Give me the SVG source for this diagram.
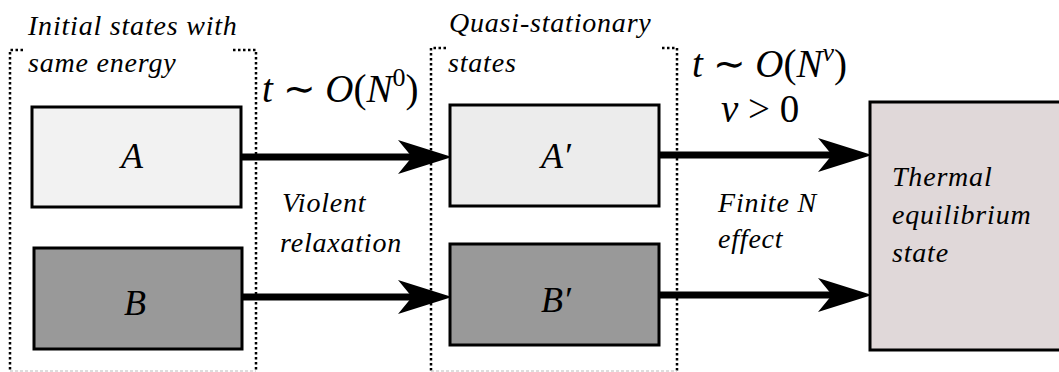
<svg xmlns="http://www.w3.org/2000/svg" width="1059" height="372" viewBox="0 0 1059 372">
<style>
.dot{fill:none;stroke:#000;stroke-width:2.5;stroke-dasharray:2.5 2.5}
.dotb{fill:none;stroke:#bbb;stroke-width:1;stroke-dasharray:3 2}
.box{stroke:#000;stroke-width:3}
.conn{stroke:#000;stroke-width:7;fill:none}
</style>
<defs>
<marker id="ah" markerUnits="userSpaceOnUse" markerWidth="54" markerHeight="34" viewBox="0 0 54 34" refX="14" refY="17" orient="auto" overflow="visible">
<path d="M0,0 L54,17 L0,34 L14,17 Z" fill="#000"/>
</marker>
</defs>
<rect width="1059" height="372" fill="#fff"/>

<g id="group-initial">
<path class="dot" d="M23,50 H10 V371"/>
<path class="dot" d="M233,50 H256 V371"/>
<path class="dotb" d="M10,371 H256"/>
<text x="28" y="35" font-family="Liberation Serif, serif" font-size="28" font-style="italic" letter-spacing="0.8">Initial states with</text>
<text x="28" y="72" font-family="Liberation Serif, serif" font-size="28" font-style="italic" letter-spacing="0.8">same energy</text>
</g>

<g id="group-quasi">
<path class="dot" d="M446,48 H431 V371"/>
<path class="dot" d="M662,48 H677 V371"/>
<path class="dotb" d="M431,371 H677"/>
<text x="449" y="32" font-family="Liberation Serif, serif" font-size="28" font-style="italic" letter-spacing="0.8">Quasi-stationary</text>
<text x="448" y="72" font-family="Liberation Serif, serif" font-size="28" font-style="italic" letter-spacing="0.8">states</text>
</g>

<g id="connectors">
<line class="conn" x1="241" y1="157" x2="412" y2="157" marker-end="url(#ah)"/>
<line class="conn" x1="242" y1="297" x2="412" y2="297" marker-end="url(#ah)"/>
<line class="conn" x1="659" y1="155" x2="832" y2="155" marker-end="url(#ah)"/>
<line class="conn" x1="659" y1="295" x2="832" y2="295" marker-end="url(#ah)"/>
</g>

<g id="node-A">
<rect class="box" x="32" y="107" width="209" height="100" fill="#f2f2f2"/>
<text x="132" y="168" text-anchor="middle" font-family="Liberation Serif, serif" font-size="36" font-style="italic">A</text>
</g>
<g id="node-B">
<rect class="box" x="34" y="248" width="208" height="101" fill="#999999"/>
<text x="135" y="315" text-anchor="middle" font-family="Liberation Serif, serif" font-size="36" font-style="italic">B</text>
</g>
<g id="node-A-prime">
<rect class="box" x="450" y="105" width="209" height="101" fill="#ececec"/>
<text x="556" y="168" text-anchor="middle" font-family="Liberation Serif, serif" font-size="36" font-style="italic">A′</text>
</g>
<g id="node-B-prime">
<rect class="box" x="450" y="244" width="209" height="101" fill="#999999"/>
<text x="556" y="312" text-anchor="middle" font-family="Liberation Serif, serif" font-size="36" font-style="italic">B′</text>
</g>
<g id="node-thermal">
<rect class="box" x="870" y="102" width="195" height="248" fill="#e0d8d9"/>
<text x="892" y="186" font-family="Liberation Serif, serif" font-size="28" font-style="italic" letter-spacing="0.8">Thermal</text>
<text x="892" y="224" font-family="Liberation Serif, serif" font-size="28" font-style="italic" letter-spacing="0.8">equilibrium</text>
<text x="892" y="262" font-family="Liberation Serif, serif" font-size="28" font-style="italic" letter-spacing="0.8">state</text>
</g>

<g id="labels">
<text x="262" y="102" font-family="Liberation Serif, serif" font-size="39" font-style="italic">t <tspan font-style="normal">∼</tspan> O<tspan font-style="normal">(</tspan>N<tspan font-style="normal" font-size="26" dy="-16">0</tspan><tspan font-style="normal" dy="16">)</tspan></text>
<text x="692" y="77" font-family="Liberation Serif, serif" font-size="39" font-style="italic">t <tspan font-style="normal">∼</tspan> O<tspan font-style="normal">(</tspan>N<tspan font-size="26" dy="-16">ν</tspan><tspan font-style="normal" dy="16">)</tspan></text>
<text x="721" y="122" font-family="Liberation Serif, serif" font-size="39" font-style="italic">ν <tspan font-style="normal">&gt; 0</tspan></text>
<text x="282" y="212" font-family="Liberation Serif, serif" font-size="28" font-style="italic" letter-spacing="0.8">Violent</text>
<text x="280" y="252" font-family="Liberation Serif, serif" font-size="28" font-style="italic" letter-spacing="0.8">relaxation</text>
<text x="718" y="212" font-family="Liberation Serif, serif" font-size="28" font-style="italic" letter-spacing="0.8">Finite N</text>
<text x="718" y="248" font-family="Liberation Serif, serif" font-size="28" font-style="italic" letter-spacing="0.8">effect</text>
</g>
</svg>
